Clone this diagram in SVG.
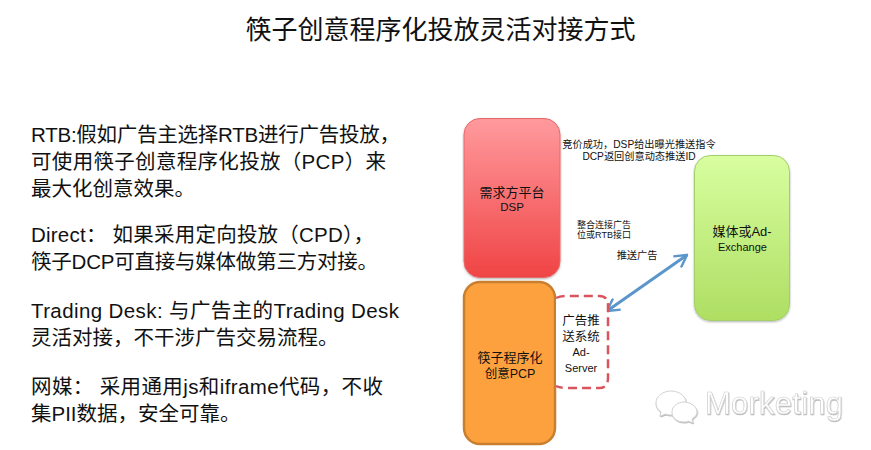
<svg xmlns="http://www.w3.org/2000/svg" width="871" height="450" viewBox="0 0 871 450">
<defs>
<linearGradient id="red" x1="0" y1="0" x2="0" y2="1"><stop offset="0" stop-color="#ff9a9d"/><stop offset="1" stop-color="#f04445"/></linearGradient>
<linearGradient id="green" x1="0" y1="0" x2="0" y2="1"><stop offset="0" stop-color="#d8fea0"/><stop offset="1" stop-color="#aede62"/></linearGradient>
<filter id="sh" x="-10%" y="-10%" width="120%" height="120%"><feDropShadow dx="0" dy="1" stdDeviation="1.2" flood-color="#000" flood-opacity="0.3"/></filter>
<filter id="wm" x="-10%" y="-20%" width="120%" height="140%"><feDropShadow dx="0.5" dy="1" stdDeviation="0.6" flood-color="#999" flood-opacity="0.7"/></filter>
<marker id="ah" viewBox="0 0 10 10" refX="9" refY="5" markerWidth="5" markerHeight="5" orient="auto-start-reverse" markerUnits="strokeWidth"><path d="M1 0.5L9 5L1 9.5" fill="none" stroke="#5a96cc" stroke-width="1.6"/></marker>
</defs>
<style>
text{font-family:"Liberation Sans","Noto Sans CJK SC",sans-serif;fill:#111}
.b{font-size:20.500px}
.n{font-size:13px;text-anchor:middle}
.s{font-size:10.200px;text-anchor:middle}
.x{font-size:9px;text-anchor:middle}
</style>
<rect width="871" height="450" fill="#fff"/>
<text x="440.500" y="39" text-anchor="middle" font-size="26">筷子创意程序化投放灵活对接方式</text>
<g id="body">
<text class="b" x="31" y="142" textLength="369">RTB:假如广告主选择RTB进行广告投放，</text>
<text class="b" x="31" y="169" textLength="355">可使用筷子创意程序化投放（PCP）来</text>
<text class="b" x="31" y="196">最大化创意效果。</text>
<text class="b" x="31" y="242" textLength="343">Direct： 如果采用定向投放（CPD），</text>
<text class="b" x="31" y="269" textLength="347">筷子DCP可直接与媒体做第三方对接。</text>
<text class="b" x="31" y="318" textLength="368">Trading Desk: 与广告主的Trading Desk</text>
<text class="b" x="31" y="345">灵活对接，不干涉广告交易流程。</text>
<text class="b" x="31" y="394" textLength="352">网媒： 采用通用js和iframe代码，不收</text>
<text class="b" x="31" y="421">集PII数据，安全可靠。</text>
</g>
<g id="connectors">
<line x1="607" y1="311" x2="687" y2="255" stroke="#5a96cc" stroke-width="3" marker-start="url(#ah)" marker-end="url(#ah)"/>
</g>
<g id="dsp">
<rect x="464" y="118.500" width="96" height="159" rx="16" fill="url(#red)" stroke="#e8686a" filter="url(#sh)"/>
<text class="n" x="512" y="197">需求方平台</text>
<text class="n" x="512" y="211" style="font-size:11.500px">DSP</text>
</g>
<g id="pcp">
<rect x="464" y="282" width="91" height="162" rx="16" fill="#fda13e" stroke="#c97f30" stroke-width="2.500"/>
<text class="n" x="510" y="362">筷子程序化</text>
<text class="n" x="510" y="378" style="font-size:12.500px">创意PCP</text>
</g>
<g id="adserver">
<path d="M556 298Q560 296 566 296H599Q608 296 608 305V378Q608 388 599 388H566Q560 388 556 386" fill="#fff" stroke="#d9545c" stroke-width="2.500" stroke-dasharray="9 5"/>
<text class="n" x="581" y="325" style="font-size:12.500px">广告推</text>
<text class="n" x="581" y="341" style="font-size:12.500px">送系统</text>
<text class="n" x="581" y="356" style="font-size:11px">Ad-</text>
<text class="n" x="581" y="372" style="font-size:11px">Server</text>
</g>
<g id="media">
<rect x="694.500" y="155.500" width="95" height="165" rx="16" fill="url(#green)" stroke="#a3cf68" filter="url(#sh)"/>
<text class="n" x="742" y="236">媒体或Ad-</text>
<text class="n" x="742.500" y="251" style="font-size:11px">Exchange</text>
</g>
<g id="labels">
<text class="s" x="639" y="148">竞价成功，DSP给出曝光推送指令</text>
<text class="s" x="639" y="160">DCP返回创意动态推送ID</text>
<text class="x" x="604" y="228">整合连接广告</text>
<text class="x" x="604" y="238">位或RTB接口</text>
<text class="s" x="637" y="259">推送广告</text>
</g>
<g id="watermark" filter="url(#wm)" fill="#fff" stroke="#d2d2d2">
<path d="M671 391C663 391 656 396 656 403C656 407 658 410 661 412L660 416L666 414C668 415 670 415 672 415C680 415 686 410 686 403C686 396 679 391 671 391Z"/>
<path d="M684 402C677 402 672 407 672 412C672 418 677 422 684 422C686 422 687 422 688 421L693 423L692 419C695 417 697 415 697 412C697 407 691 402 684 402Z"/>
<text x="705" y="414" font-size="31" textLength="138" style="fill:#fff;stroke:#cfcfcf;stroke-width:.6">Morketing</text>
</g>
</svg>
